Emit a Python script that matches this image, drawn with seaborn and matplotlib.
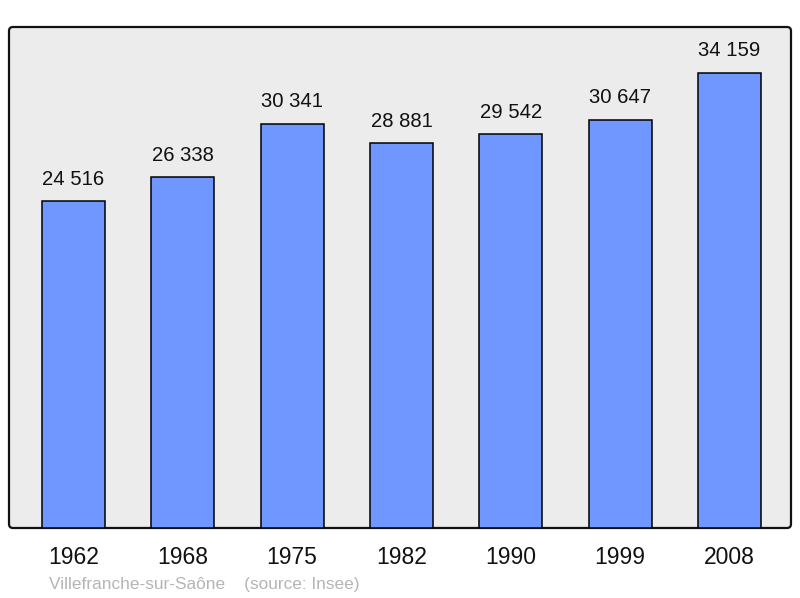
import matplotlib
matplotlib.use("Agg")
import matplotlib.pyplot as plt
import pandas as pd
import seaborn as sns
from matplotlib.patches import FancyBboxPatch

years = ["1962", "1968", "1975", "1982", "1990", "1999", "2008"]
population = [24516, 26338, 30341, 28881, 29542, 30647, 34159]
labels = ["24 516", "26 338", "30 341", "28 881", "29 542", "30 647", "34 159"]
commune = "Villefranche-sur-Saône"
source = "(source: Insee)"

sns.set_theme(style="white")
plt.rcParams["font.family"] = ["Liberation Sans", "DejaVu Sans"]

df = pd.DataFrame({"year": years, "population": population})

fig = plt.figure(figsize=(8, 5.98), dpi=100)
fig.patch.set_facecolor("white")

# rounded frame behind the bars
frame = FancyBboxPatch((9, 70), 782, 501, boxstyle="round,pad=0,rounding_size=4",
                       transform=None, facecolor="#ececec", edgecolor="#111111",
                       linewidth=1.6, zorder=-5)
fig.patches.append(frame)

ax = fig.add_axes([9 / 800, 70 / 598, 782 / 800, 501 / 598])
ax.set_facecolor("none")
ax.set_zorder(2)

sns.barplot(data=df, x="year", y="population", color="#7097ff", saturation=1,
            edgecolor="black", linewidth=1.1, width=0.576, ax=ax)

for i, (val, lab) in enumerate(zip(population, labels)):
    ax.annotate(lab, (i, val), xytext=(0, 9), textcoords="offset points",
                ha="center", va="bottom", fontsize=14.6, color="#111111")

ax.set_xlim(-0.59, 6.5625)
ax.set_ylim(0, 37600)
ax.set_yticks([])
ax.set_xlabel("")
ax.set_ylabel("")
ax.tick_params(axis="x", length=0, pad=13, labelsize=16.5, colors="#111111")
for s in ax.spines.values():
    s.set_visible(False)

fig.text(49 / 800, 1 - 584 / 598, commune + "    " + source, fontsize=12.4,
         color="#b5b5b5", ha="left", va="center")

fig.savefig("out.png", dpi=100)
